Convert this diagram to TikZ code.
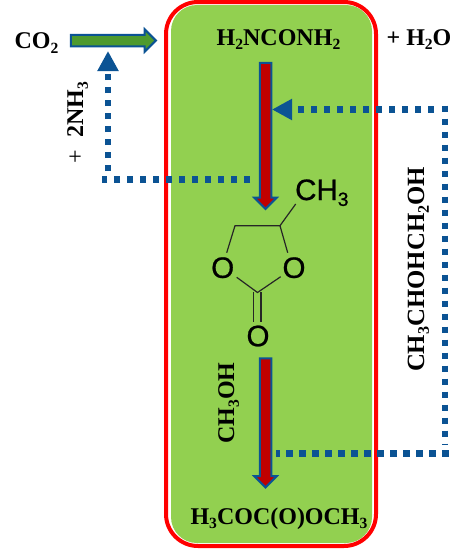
\documentclass[tikz,border=0pt]{standalone}
\usepackage{fontspec}
\usepackage{graphicx}
\setmainfont{Liberation Serif}
\newfontfamily\chemsans{Liberation Sans}[RawFeature={embolden=0.8}]
\usetikzlibrary{shapes.arrows,arrows.meta}
\definecolor{leaf}{HTML}{92D050}
\definecolor{navy}{HTML}{0B5394}
\definecolor{deepred}{HTML}{C00000}
\definecolor{grass}{HTML}{4E9A2E}
\newcommand{\sbs}[1]{\raisebox{-.2em}{\scalebox{.65}{#1}}}
\tikzset{
  x=1pt,y=-1pt,
  label text/.style={font=\fontsize{24}{24}\selectfont\bfseries,inner sep=0pt,anchor=base},
  atom/.style={font=\chemsans\fontsize{29.5}{30}\selectfont,inner sep=0pt,text=black},
  bond/.style={line width=1.2pt,draw=black!85},
  dotted link/.style={draw=navy,line width=6.4pt,dash pattern=on 6.4pt off 6.6pt},
  dotted head/.style={dotted link,-{Triangle[length=20pt,width=20pt,fill=navy]}},
  block/.style={shape=single arrow,draw=navy,line width=2pt,inner sep=0pt,outer sep=0pt,
     text width=0pt,text height=9.5pt,text depth=0pt,single arrow head extend=5.5pt,
     single arrow tip angle=90,single arrow head indent=0pt},
}
\begin{document}
\begin{tikzpicture}
\useasboundingbox (0,0) rectangle (470,549);
% box
\fill[leaf,rounded corners=26pt] (171,5) rectangle (372,543);
\draw[red,line width=4pt,rounded corners=32pt] (166,2) rectangle (376,546);
% block arrows
\node[block,fill=grass,minimum height=85pt] (feed) at (110.5,40.5) {};
\node[block,fill=deepred,rotate=-90,minimum height=146pt] (stepone) at (265.5,133) {};
\node[block,fill=deepred,rotate=-90,minimum height=129pt] (steptwo) at (265.5,420) {};
% texts
\node[label text] (co2) at (36.5,48.5) {CO\sbs{2}};
\node[label text] (urea) at (278.5,45) {H\sbs{2}NCONH\sbs{2}};
\node[label text] (water) at (419,45) {+ H\sbs{2}O};
\node[label text] (dmc) at (279,524) {H\sbs{3}COC(O)OCH\sbs{3}};
\node[label text,rotate=90] (meoh) at (234,403) {CH\sbs{3}OH};
\node[label text,font=\fontsize{24.8}{25}\selectfont\bfseries,rotate=90] (pg) at (424,269.5) {CH\sbs{3}CHOHCH\sbs{2}OH};
\node[label text,rotate=90] (ammonia) at (83,122.5) {{\mdseries +}\hspace{.5em}2NH\sbs{3}};
% dotted loops
\coordinate (leftstart) at (250,179.5);
\coordinate (leftend) at (102,179.5);
\coordinate (upstart) at (108,171);
\coordinate (uptip) at (108,51);
\coordinate (topstart) at (434,109.5);
\coordinate (toptip) at (272,109.5);
\coordinate (sidestart) at (445,105.5);
\coordinate (sideend) at (445,445);
\coordinate (botstart) at (448.5,453.5);
\coordinate (botend) at (276,453.5);
\draw[dotted link] (leftstart) -- (leftend);
\draw[dotted head] (upstart) -- (uptip);
\draw[dotted head] (topstart) -- (toptip);
\draw[dotted link] (sidestart) -- (sideend);
\draw[dotted link] (botstart) -- (botend);
% molecule
\node[atom] (ol) at (222.7,267.7) {O};
\node[atom] (or) at (294,267.7) {O};
\node[atom] (ob) at (258,336) {O};
\node[atom,anchor=base west] (me) at (295,200) {CH\sbs{3}};
\coordinate (ca) at (235,225.7);
\coordinate (cb) at (280,225.7);
\coordinate (cc) at (257.5,292.5);
\draw[bond] (226.7,252.7) -- (ca) -- (cb) -- (287.7,252.7);
\draw[bond] (cb) -- (295.7,204);
\draw[bond] (236.7,277.3) -- (cc) -- (280.7,276.7);
\draw[bond] (253.6,292) -- (253.6,321.7);
\draw[bond] (260.9,292) -- (260.9,321.7);
\end{tikzpicture}
\end{document}
